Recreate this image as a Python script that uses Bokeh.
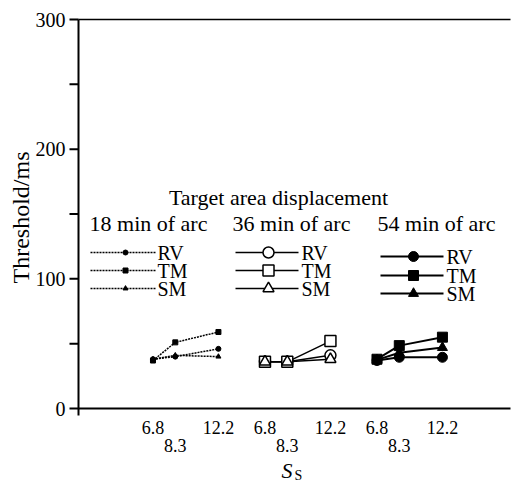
import math

from bokeh.core.properties import value
from bokeh.embed import file_html
from bokeh.models import Range1d
from bokeh.plotting import figure
from bokeh.resources import INLINE

# ---- data -------------------------------------------------------------
ss_values = [6.8, 8.3, 12.2]
ss_labels = ["6.8", "8.3", "12.2"]
groups = ["18 min of arc", "36 min of arc", "54 min of arc"]
methods = ["RV", "TM", "SM"]

# thresholds (ms) for each target-area displacement, one value per S_S
rv_18 = [38, 40, 46]
tm_18 = [37, 51, 59]
sm_18 = [38, 41, 40]

rv_36 = [36, 36, 41]
tm_36 = [36, 36, 52]
sm_36 = [36, 36, 38]

rv_54 = [37, 39.5, 39.5]
tm_54 = [38, 48.5, 55]
sm_54 = [37.5, 43, 47]

y_ticks = [0, 100, 200, 300]
y_tick_labels = ["0", "100", "200", "300"]
y_minor = [50, 150, 250]

# ---- layout helpers ---------------------------------------------------
W, H = 524, 482
AX_L, AX_R, AX_T = 78, 510, 19  # plot box edges in pixels
AXIS_Y = 408                    # pixel row of the value 0 (x axis line)
GROUP_GAP = 1.0                 # log units between displacement groups
PX_PER_UNIT = 112.0
XA = 1.252                      # x value at the y axis
Y_TOP = 300


def gx(g, s):
    """x position of S_S value s inside displacement group g (log scale)."""
    return g * GROUP_GAP + math.log(s)


def px2x(px):
    return XA + (px - AX_L) / PX_PER_UNIT


def py2y(py):
    return (AXIS_Y - py) * Y_TOP / (AXIS_Y - AX_T)


SERIF = value("Liberation Serif")
TXT = dict(text_font=SERIF, text_color="black")

# the data frame covers the whole canvas; axes are drawn inside it
p = figure(width=W, height=H, output_backend="svg", toolbar_location=None,
           x_range=Range1d(px2x(0), px2x(W)),
           y_range=Range1d(py2y(H), py2y(0)),
           x_axis_location=None, y_axis_location=None,
           min_border=0)
p.outline_line_color = None
p.grid.grid_line_color = None
p.background_fill_color = "white"
p.border_fill_color = "white"

# ---- axes -------------------------------------------------------------
x_ax, x_end = px2x(AX_L), px2x(AX_R)
tick_len = 9 / PX_PER_UNIT
all_ticks = y_ticks + y_minor

p.line([x_ax, x_ax], [py2y(AXIS_Y + 7), Y_TOP], line_color="black",
       line_width=2)
p.line([x_ax, x_end], [0, 0], line_color="black", line_width=2)
p.line([x_ax, x_end], [Y_TOP, Y_TOP], line_color="black", line_width=1.5)
p.segment(x0=[x_ax - tick_len] * len(all_ticks), y0=all_ticks,
          x1=[x_ax] * len(all_ticks), y1=all_ticks,
          line_color="black", line_width=2)
p.text(x=[px2x(65)] * len(y_ticks), y=y_ticks, text=y_tick_labels,
       text_font_size="20px", text_align="right", text_baseline="middle",
       **TXT)
p.text(x=[px2x(20)], y=[py2y(217)], text=["Threshold/ms"], angle=math.pi / 2,
       text_font_size="24px", text_align="center", text_baseline="middle",
       **TXT)

# S_S tick labels, 8.3 staggered onto a second row
row1_pos = [gx(g, s) for g in range(3) for s in (ss_values[0], ss_values[2])]
row1_txt = [t for g in range(3) for t in (ss_labels[0], ss_labels[2])]
row2_pos = [gx(g, ss_values[1]) for g in range(3)]
row2_txt = [ss_labels[1]] * 3

p.text(x=row1_pos, y=[py2y(427)] * len(row1_pos), text=row1_txt,
       text_font_size="18px", text_align="center", text_baseline="middle",
       **TXT)
p.text(x=row2_pos, y=[py2y(445)] * len(row2_pos), text=row2_txt,
       text_font_size="18px", text_align="center", text_baseline="middle",
       **TXT)

# axis title S_S
p.text(x=[px2x(281)], y=[py2y(470)], text=["S"], text_font_size="22px",
       text_font_style="italic", text_align="left", text_baseline="middle",
       **TXT)
p.text(x=[px2x(294)], y=[py2y(475)], text=["S"], text_font_size="14px",
       text_align="left", text_baseline="middle", **TXT)

# ---- series -----------------------------------------------------------
styles = [
    # dotted lines, small filled markers
    dict(dash="2 1", lw=1.5, size=5, fill="black", mlw=1),
    # thin solid lines, open markers
    dict(dash="solid", lw=1.5, size=11, fill="white", mlw=1.5),
    # thicker solid lines, filled markers
    dict(dash="solid", lw=2, size=10, fill="black", mlw=1),
]
markers = {"RV": "circle", "TM": "square", "SM": "triangle"}
series = [
    {"RV": rv_18, "TM": tm_18, "SM": sm_18},
    {"RV": rv_36, "TM": tm_36, "SM": sm_36},
    {"RV": rv_54, "TM": tm_54, "SM": sm_54},
]
draw_order = [["RV", "SM", "TM"], ["RV", "TM", "SM"], ["RV", "SM", "TM"]]

for g, data in enumerate(series):
    st = styles[g]
    xs = [gx(g, s) for s in ss_values]
    for m in methods:
        p.line(xs, data[m], line_color="black", line_width=st["lw"],
               line_dash=st["dash"])
    for m in draw_order[g]:
        p.scatter(xs, data[m], marker=markers[m], size=st["size"],
                  fill_color=st["fill"], line_color="black",
                  line_width=st["mlw"])

# ---- legend -----------------------------------------------------------
p.text(x=[px2x(278)], y=[py2y(197)], text=["Target area displacement"],
       text_font_size="22px", text_align="center", text_baseline="middle",
       **TXT)

heading_cx = [148, 291, 436]
line_x = [(90, 155, 125, 157), (235, 298, 268, 301), (380, 443, 413, 446)]
row_y = [(252, 270, 288), (252, 270, 288), (256, 275, 293)]
leg_size = [5, 11, 10]

for g in range(3):
    st = styles[g]
    p.text(x=[px2x(heading_cx[g])], y=[py2y(223)], text=[groups[g]],
           text_font_size="22px", text_align="center",
           text_baseline="middle", **TXT)
    x0, x1, xm, xt = line_x[g]
    for m, ry in zip(methods, row_y[g]):
        yy = py2y(ry)
        p.line([px2x(x0), px2x(x1)], [yy, yy], line_color="black",
               line_width=st["lw"], line_dash=st["dash"])
        p.scatter([px2x(xm)], [yy], marker=markers[m], size=leg_size[g],
                  fill_color=st["fill"], line_color="black",
                  line_width=st["mlw"])
        p.text(x=[px2x(xt)], y=[yy], text=[m], text_font_size="20px",
               text_align="left", text_baseline="middle", **TXT)

open("out.html", "w").write(file_html(p, INLINE))
